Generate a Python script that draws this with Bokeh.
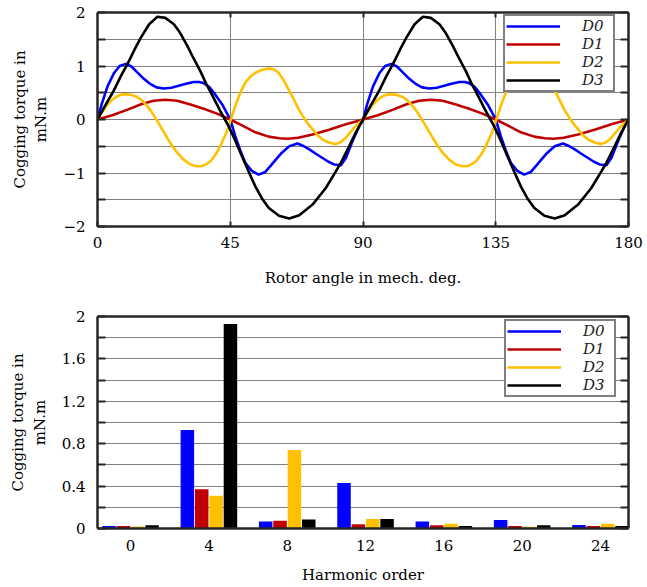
from bokeh.plotting import figure
from bokeh.models import Range1d, LinearAxis, FixedTicker, Legend, LegendItem
from bokeh.layouts import column
from bokeh.embed import file_html
from bokeh.resources import INLINE

FONT = "DejaVu Serif"

# ---------------- data: cogging torque waveforms (mN.m) vs rotor angle (deg) ----------------
d0_angle = [0, 1.5, 3.4, 5.6, 7.5, 9.6, 11.5, 13.5, 15.7, 18, 20, 22.5, 25, 27.5, 30, 32.6, 34.5, 36, 38, 40,
            42.5, 45, 46.7, 48.4, 50.1, 52.3, 54.6, 56.9, 58.6, 60.3, 62.5, 65, 67.8, 70, 71.8, 74, 76.3, 78.3,
            80.2, 82.5, 84.2, 86.4, 88.7,
            90, 91.5, 93.4, 95.6, 97.5, 99.6, 101.5, 103.5, 105.7, 108, 110, 112.5, 115, 117.5, 120, 122.6, 124.5,
            126, 128, 130, 132.5, 135, 136.7, 138.4, 140.1, 142.3, 144.6, 146.9, 148.6, 150.3, 152.5, 155, 157.8,
            160, 161.8, 164, 166.3, 168.3, 170.2, 172.5, 174.2, 176.4, 178.7, 180]
d0_torque = [0, 0.30, 0.62, 0.87, 1.00, 1.04, 0.99, 0.88, 0.76, 0.66, 0.60, 0.58, 0.595, 0.63, 0.67, 0.70, 0.70,
             0.68, 0.60, 0.46, 0.26, 0.0, -0.31, -0.58, -0.81, -0.96, -1.03, -0.98, -0.87, -0.76, -0.62, -0.50,
             -0.45, -0.50, -0.56, -0.64, -0.72, -0.79, -0.84, -0.856, -0.72, -0.41, -0.125,
             0, 0.30, 0.62, 0.87, 1.00, 1.04, 0.99, 0.88, 0.76, 0.66, 0.60, 0.58, 0.595, 0.63, 0.67, 0.70, 0.70,
             0.68, 0.60, 0.46, 0.26, 0.0, -0.31, -0.58, -0.81, -0.96, -1.03, -0.98, -0.87, -0.76, -0.62, -0.50,
             -0.45, -0.50, -0.56, -0.64, -0.72, -0.79, -0.84, -0.856, -0.72, -0.41, -0.125, 0]

d1_angle = [0, 5, 10, 15, 19, 23, 27, 31.5, 36, 40.5, 45, 49, 53.5, 58, 61.6, 64.5, 68, 72.9, 78.5, 84.2,
            90, 95, 100, 105, 109, 113, 117, 121.5, 126, 130.5, 135, 139, 143.5, 148, 151.6, 154.5, 158, 162.9,
            168.5, 174.2, 180]
d1_torque = [0, 0.08, 0.18, 0.29, 0.35, 0.37, 0.35, 0.28, 0.20, 0.11, 0.0, -0.11, -0.24, -0.32, -0.35, -0.36,
             -0.34, -0.28, -0.19, -0.09,
             0, 0.08, 0.18, 0.29, 0.35, 0.37, 0.35, 0.28, 0.20, 0.11, 0.0, -0.11, -0.24, -0.32, -0.35, -0.36,
             -0.34, -0.28, -0.19, -0.09, 0]

d2_angle = [0, 1.7, 3.4, 5.0, 6.8, 8.5, 10.1, 11.8, 13.5, 15.2, 16.9, 18.6, 20.3, 22.0, 23.6, 25.3, 27.0, 29.2,
            31.5, 33.5, 35.5, 37.0, 38.3, 40.0, 41.6, 43.9, 45.2, 46.7, 48.4, 50.1, 51.8, 53.5, 55.8, 58.0, 59.7,
            61.4, 63.0, 64.8, 66.5, 68.2, 70.0, 71.5, 72.9, 74.5, 76.3, 78.5, 80.8, 82.5, 84.2, 86.0, 87.5,
            90, 91.7, 93.4, 95.0, 96.8, 98.5, 100.1, 101.8, 103.5, 105.2, 106.9, 108.6, 110.3, 112.0, 113.6,
            115.3, 117.0, 119.2, 121.5, 123.5, 125.5, 127.0, 128.3, 130.0, 131.6, 133.9, 135.2, 136.7, 138.4,
            140.1, 141.8, 143.5, 145.8, 148.0, 149.7, 151.4, 153.0, 154.8, 156.5, 158.2, 160.0, 161.5, 162.9,
            164.5, 166.3, 168.5, 170.8, 172.5, 174.2, 176.0, 177.5, 180]
d2_torque = [0, 0.15, 0.28, 0.37, 0.44, 0.47, 0.47, 0.455, 0.42, 0.35, 0.25, 0.12, -0.03, -0.19, -0.34, -0.49,
             -0.62, -0.75, -0.84, -0.875, -0.87, -0.83, -0.78, -0.66, -0.50, -0.22, 0.0, 0.25, 0.50, 0.69, 0.80,
             0.875, 0.93, 0.955, 0.94, 0.875, 0.74, 0.56, 0.38, 0.19, 0.03, -0.09, -0.18, -0.29, -0.375, -0.43,
             -0.46, -0.42, -0.34, -0.22, -0.125,
             0, 0.15, 0.28, 0.37, 0.44, 0.47, 0.47, 0.455, 0.42, 0.35, 0.25, 0.12, -0.03, -0.19, -0.34, -0.49,
             -0.62, -0.75, -0.84, -0.875, -0.87, -0.83, -0.78, -0.66, -0.50, -0.22, 0.0, 0.25, 0.50, 0.69, 0.80,
             0.875, 0.93, 0.955, 0.94, 0.875, 0.74, 0.56, 0.38, 0.19, 0.03, -0.09, -0.18, -0.29, -0.375, -0.43,
             -0.46, -0.42, -0.34, -0.22, -0.125, 0]

d3_angle = [0, 2.5, 5.6, 8.0, 10.1, 12.5, 14.6, 17.5, 20.3, 23.0, 25.9, 28.0, 30.4, 32.5, 34.9, 37.0, 39.4,
            41.5, 43.2, 44.4, 46.5, 49.0, 51.3, 53.5, 55.7, 58.0, 61.5, 65.0, 68.4, 72.9, 77.4, 80.8, 82.5,
            85.3, 87.5,
            90, 92.5, 95.6, 98.0, 100.1, 102.5, 104.6, 107.5, 110.3, 113.0, 115.9, 118.0, 120.4, 122.5, 124.9,
            127.0, 129.4, 131.5, 133.2, 134.4, 136.5, 139.0, 141.3, 143.5, 145.7, 148.0, 151.5, 155.0, 158.4,
            162.9, 167.4, 170.8, 172.5, 175.3, 177.5, 180]
d3_torque = [0, 0.25, 0.55, 0.82, 1.03, 1.30, 1.52, 1.78, 1.92, 1.90, 1.78, 1.62, 1.38, 1.15, 0.90, 0.65, 0.40,
             0.17, 0.0, -0.12, -0.37, -0.69, -0.98, -1.25, -1.47, -1.65, -1.80, -1.85, -1.79, -1.59, -1.28,
             -0.97, -0.81, -0.50, -0.25,
             0, 0.25, 0.55, 0.82, 1.03, 1.30, 1.52, 1.78, 1.92, 1.90, 1.78, 1.62, 1.38, 1.15, 0.90, 0.65, 0.40,
             0.17, 0.0, -0.12, -0.37, -0.69, -0.98, -1.25, -1.47, -1.65, -1.80, -1.85, -1.79, -1.59, -1.28,
             -0.97, -0.81, -0.50, -0.25, 0]

series_names = ["D0", "D1", "D2", "D3"]
series_colors = ["#0000FF", "#C00000", "#FFC000", "#000000"]

# ---------------- data: harmonic spectrum ----------------
harmonic_order = [0, 4, 8, 12, 16, 20, 24]
h_d0 = [0.023, 0.93, 0.067, 0.43, 0.067, 0.08, 0.033]
h_d1 = [0.023, 0.37, 0.074, 0.039, 0.03, 0.023, 0.023]
h_d2 = [0.02, 0.31, 0.74, 0.09, 0.045, 0.017, 0.045]
h_d3 = [0.03, 1.93, 0.086, 0.09, 0.023, 0.03, 0.023]

top_x_ticks = [0, 45, 90, 135, 180]
top_inner_x_ticks = [45, 90, 135]
top_y_ticks = [-2, -1, 0, 1, 2]
top_y_minor = [-1.5, -0.5, 0.5, 1.5]
bot_y_ticks = [0, 0.4, 0.8, 1.2, 1.6, 2]
bot_y_minor = [0.2, 0.6, 1.0, 1.4, 1.8]

AX = "#262626"
GRID = "#808080"


def style_axis(ax, show_labels=True, tick_len=8):
    ax.axis_line_width = 2.5
    ax.axis_line_color = AX
    ax.major_tick_line_color = AX
    ax.minor_tick_line_color = AX
    ax.major_tick_line_width = 2
    ax.minor_tick_line_width = 2
    ax.major_tick_in = tick_len
    ax.major_tick_out = 0
    ax.minor_tick_in = tick_len
    ax.minor_tick_out = 0
    ax.major_label_text_font = FONT
    ax.axis_label_text_font = FONT
    ax.axis_label_text_font_size = "15px"
    ax.axis_label_text_font_style = "normal"
    ax.axis_label_text_color = "black"
    if show_labels:
        ax.major_label_text_font_size = "15px"
        ax.major_label_text_color = "black"
    else:
        ax.major_label_text_font_size = "1px"
        ax.major_label_text_color = None
        ax.major_label_standoff = 0


def make_legend(renderers, loc):
    items = [LegendItem(label=n, renderers=[r]) for n, r in zip(series_names, renderers)]
    lg = Legend(items=items, location=loc, margin=0, padding=1, spacing=0,
                glyph_width=54, glyph_height=18, label_height=18, label_width=30,
                label_standoff=22, border_line_color="black", border_line_width=2,
                background_fill_color="white", background_fill_alpha=1.0,
                label_text_font=FONT, label_text_font_style="italic",
                label_text_font_size="15px", label_text_color="#222222")
    return lg


# ---------------- top figure ----------------
p1 = figure(width=647, height=298, x_range=Range1d(0, 180), y_range=Range1d(-2, 2),
            output_backend="svg", toolbar_location=None,
            min_border_left=97, min_border_right=18, min_border_top=12, min_border_bottom=72)
p1.outline_line_color = None
p1.background_fill_color = "white"

p1.xaxis.ticker = FixedTicker(ticks=top_x_ticks)
p1.yaxis.ticker = FixedTicker(ticks=top_y_ticks, minor_ticks=top_y_minor)
style_axis(p1.xaxis[0], tick_len=5)
style_axis(p1.yaxis[0])
p1.xaxis.axis_label = "Rotor angle in mech. deg."
p1.yaxis.axis_label = "Cogging torque in\nmN.m"
p1.xaxis.major_label_standoff = 10
p1.xaxis.axis_label_standoff = 18
p1.yaxis.major_label_standoff = 12
p1.yaxis.axis_label_standoff = 10

ax_r1 = LinearAxis(ticker=FixedTicker(ticks=top_y_ticks, minor_ticks=top_y_minor))
style_axis(ax_r1, show_labels=False)
p1.add_layout(ax_r1, "right")
ax_t1 = LinearAxis(ticker=FixedTicker(ticks=top_inner_x_ticks))
style_axis(ax_t1, show_labels=False, tick_len=5)
p1.add_layout(ax_t1, "above")

p1.xgrid.ticker = FixedTicker(ticks=top_inner_x_ticks)
p1.xgrid.grid_line_color = GRID
p1.xgrid.grid_line_width = 1
p1.ygrid.grid_line_color = GRID
p1.ygrid.grid_line_width = 1
p1.ygrid.minor_grid_line_color = GRID
p1.ygrid.minor_grid_line_width = 1

curves = [(d0_angle, d0_torque), (d1_angle, d1_torque), (d2_angle, d2_torque), (d3_angle, d3_torque)]
r_top = []
for (xa, ya), c in zip(curves, series_colors):
    r_top.append(p1.line(xa, ya, line_color=c, line_width=2.6))

p1.add_layout(make_legend(r_top, (406, 134)))

# ---------------- bottom figure ----------------
p2 = figure(width=647, height=289, x_range=Range1d(-1.69, 25.43), y_range=Range1d(0, 2),
            output_backend="svg", toolbar_location=None,
            min_border_left=97, min_border_right=19, min_border_top=18, min_border_bottom=59)
p2.outline_line_color = None
p2.background_fill_color = "white"

p2.xaxis.ticker = FixedTicker(ticks=harmonic_order)
p2.yaxis.ticker = FixedTicker(ticks=bot_y_ticks, minor_ticks=bot_y_minor)
style_axis(p2.xaxis[0], tick_len=0)
style_axis(p2.yaxis[0])
p2.yaxis.major_label_overrides = {t: f"{t:g}" for t in bot_y_ticks}
p2.xaxis.axis_label = "Harmonic order"
p2.yaxis.axis_label = "Cogging torque in\nmN.m"
p2.xaxis.major_label_standoff = 11
p2.xaxis.axis_label_standoff = 12
p2.yaxis.major_label_standoff = 12
p2.yaxis.axis_label_standoff = 10

ax_r2 = LinearAxis(ticker=FixedTicker(ticks=bot_y_ticks, minor_ticks=bot_y_minor))
style_axis(ax_r2, show_labels=False)
p2.add_layout(ax_r2, "right")
ax_t2 = LinearAxis(ticker=FixedTicker(ticks=[]))
style_axis(ax_t2, show_labels=False, tick_len=0)
p2.add_layout(ax_t2, "above")

p2.xgrid.visible = False
p2.ygrid.grid_line_color = GRID
p2.ygrid.grid_line_width = 1
p2.ygrid.minor_grid_line_color = GRID
p2.ygrid.minor_grid_line_width = 1

offsets = [-1.1, -0.367, 0.367, 1.1]
for vals, c, off in zip([h_d0, h_d1, h_d2, h_d3], series_colors, offsets):
    p2.vbar(x=[h + off for h in harmonic_order], top=vals, bottom=0, width=0.69,
            fill_color=c, line_color=None)

# legend-only line renderers (one NaN point each, nothing is drawn in the plot)
nan = float("nan")
r_bot = [p2.line([nan], [nan], line_color=c, line_width=2.6) for c in series_colors]
p2.add_layout(make_legend(r_bot, (407, 131)))

layout = column(p1, p2, spacing=0)
open("out.html", "w").write(file_html(layout, INLINE))
